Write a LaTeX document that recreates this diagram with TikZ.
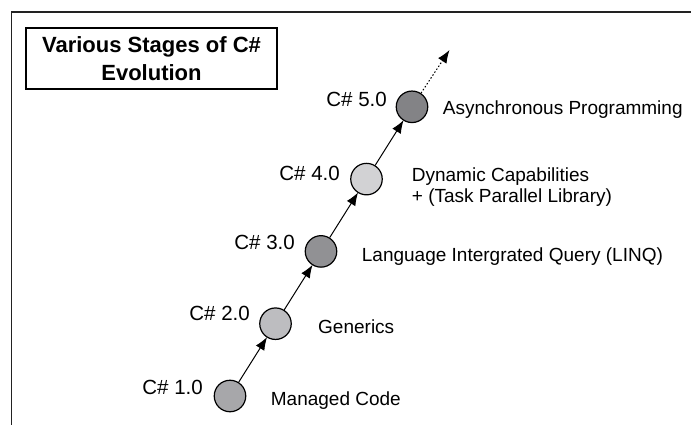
\documentclass[tikz,border=0pt]{standalone}
\usepackage{fontspec}
\setmainfont{Liberation Sans}
\usetikzlibrary{arrows.meta}
\definecolor{cA}{HTML}{A7A7AA}
\definecolor{cB}{HTML}{BDBDC0}
\definecolor{cC}{HTML}{919194}
\definecolor{cD}{HTML}{D2D2D4}
\definecolor{cE}{HTML}{838386}
\definecolor{framegray}{HTML}{222222}
\tikzset{
  stage/.style={circle, draw=black, line width=1.2pt, minimum size=31.5pt, inner sep=0pt},
  ver/.style={font=\fontsize{20.5}{24}\selectfont, inner sep=0pt, anchor=base east},
  desc/.style={font=\fontsize{19}{22}\selectfont, inner sep=0pt, anchor=base west, align=left},
  link/.style={line width=1pt, -{Latex[length=13pt,width=10pt]}, shorten >=-0.5pt},
  future/.style={line width=1pt, dash pattern=on 1.5pt off 2pt, -{Latex[length=13pt,width=10pt]}},
  titlebox/.style={draw=black, line width=1.1pt, minimum width=251pt, minimum height=61pt, inner sep=0pt, align=center, font=\bfseries\fontsize{22}{28}\selectfont}
}
\begin{document}
\begin{tikzpicture}[x=1pt,y=-1pt]
\useasboundingbox (0,0) rectangle (691,425);
\fill[white] (0,0) rectangle (691,425);
\coordinate (frTR) at (691,12);
\coordinate (frTL) at (11.5,12);
\coordinate (frBL) at (11.5,425);
\draw[framegray, line width=1.7pt] (frTR) -- (frTL) -- (frBL);
\node[titlebox] (title) at (151.5,58.5) {Various Stages of C\#\\Evolution};
\node[stage, fill=cA] (s1) at (230,396) {};
\node[stage, fill=cB] (s2) at (275.5,323.7) {};
\node[stage, fill=cC] (s3) at (321,251.4) {};
\node[stage, fill=cD] (s4) at (366.5,179.1) {};
\node[stage, fill=cE] (s5) at (412,106.8) {};
\coordinate (next) at (449.5,50);
\draw[link] (s1) -- (s2);
\draw[link] (s2) -- (s3);
\draw[link] (s3) -- (s4);
\draw[link] (s4) -- (s5);
\draw[future] (s5) -- (next);
\node[ver] (v1) at (203,394) {C\# 1.0};
\node[ver] (v2) at (250,320.7) {C\# 2.0};
\node[ver] (v3) at (295,249) {C\# 3.0};
\node[ver] (v4) at (340,180) {C\# 4.0};
\node[ver] (v5) at (387,107) {C\# 5.0};
\node[desc] (d1) at (270.7,405) {Managed Code};
\node[desc] (d2) at (318,333) {Generics};
\node[desc] (d3) at (361.7,261.7) {Language Intergrated Query (LINQ)};
\node[desc] (d4) at (411.7,181.7) {Dynamic Capabilities};
\node[desc] (d4b) at (411.7,202.5) {+ (Task Parallel Library)};
\node[desc] (d5) at (442.7,115) {Asynchronous Programming};
\end{tikzpicture}
\end{document}
